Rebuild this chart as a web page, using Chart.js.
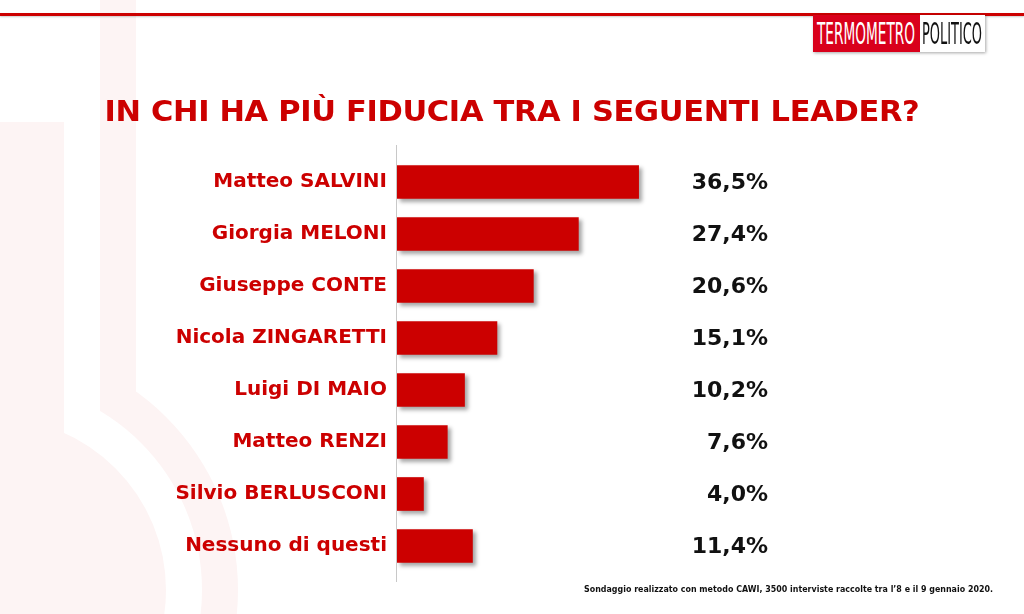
<!DOCTYPE html>
<html>
<head>
<meta charset="utf-8">
<script src="https://cdn.jsdelivr.net/npm/chart.js@4"></script>
<style>
html,body{margin:0;padding:0;background:#fff;width:1024px;height:614px;overflow:hidden;}
#wrap{position:relative;width:1024px;height:614px;}
canvas{position:absolute;left:0;top:0;}
#title{position:absolute;left:0;width:1024px;top:94px;text-align:center;font-family:"DejaVu Sans";font-weight:bold;font-size:29px;color:#cc0000;white-space:nowrap;letter-spacing:-0.3px;}
#title span{display:inline-block;transform-origin:50% 50%;}
#logo{position:absolute;left:813px;top:15px;height:37px;width:172px;box-shadow:1px 1px 3px rgba(0,0,0,0.35);background:#fff;}
#logo .r{position:absolute;left:0;top:0;width:107px;height:37px;background:#d9001b;}
#logo .t{position:absolute;top:2px;font-family:"Liberation Sans Narrow","DejaVu Sans Condensed","Liberation Sans";font-size:30px;line-height:33px;white-space:nowrap;transform-origin:0 0;}
#foot{position:absolute;left:584px;top:584px;font-family:"DejaVu Sans";font-weight:bold;font-size:9px;color:#111;white-space:nowrap;transform-origin:0 0;}
</style>
</head>
<body>
<div id="wrap">
<canvas id="c" width="1024" height="614"></canvas>
<div id="title"><span id="tspan">IN CHI HA PIÙ FIDUCIA TRA I SEGUENTI LEADER?</span></div>
<div id="logo"><div class="r"></div><span class="t" id="l1" style="left:4px;color:#fff;">TERMOMETRO</span><span class="t" id="l2" style="left:109px;color:#111;">POLITICO</span></div>
<div id="foot">Sondaggio realizzato con metodo CAWI, 3500 interviste raccolte tra l’8 e il 9 gennaio 2020.</div>
</div>
<script>
const categories = ["Matteo SALVINI","Giorgia MELONI","Giuseppe CONTE","Nicola ZINGARETTI","Luigi DI MAIO","Matteo RENZI","Silvio BERLUSCONI","Nessuno di questi"];
const values = [36.5,27.4,20.6,15.1,10.2,7.6,4.0,11.4];
const valueLabels = ["36,5%","27,4%","20,6%","15,1%","10,2%","7,6%","4,0%","11,4%"];

function fitWidth(el, w){
  const r = el.getBoundingClientRect().width;
  el.style.transform = 'scaleX(' + (w / r) + ')';
}
fitWidth(document.getElementById('tspan'), 815);
fitWidth(document.getElementById('l1'), 98);
fitWidth(document.getElementById('l2'), 60);
fitWidth(document.getElementById('foot'), 409);

const bgPlugin = {
  id:'bg',
  beforeDraw(chart){
    const ctx = chart.ctx;
    ctx.save();
    const pink = '#fdf4f4';
    ctx.fillStyle = pink;
    ctx.beginPath(); ctx.arc(-6,590,244,0,Math.PI*2); ctx.fill();
    ctx.fillRect(100,0,36,400);
    ctx.fillStyle = '#fff';
    ctx.beginPath(); ctx.arc(-6,590,208,0,Math.PI*2); ctx.fill();
    ctx.fillRect(64,0,36,420);
    ctx.fillStyle = pink;
    ctx.beginPath(); ctx.arc(-6,590,172,0,Math.PI*2); ctx.fill();
    ctx.fillRect(0,122,64,400);
    // top rule
    ctx.shadowColor = 'rgba(0,0,0,0.2)';
    ctx.shadowOffsetY = 1; ctx.shadowBlur = 2;
    ctx.fillStyle = '#cc0000';
    ctx.fillRect(0,13,1024,3);
    ctx.shadowColor = 'transparent';
    // axis line
    ctx.fillStyle = '#c8c8c8';
    ctx.fillRect(chart.chartArea.left - 1, 145, 1, 437);
    ctx.restore();
  }
};
const shadowPlugin = {
  id:'shadow',
  beforeDatasetDraw(chart){
    const ctx = chart.ctx;
    ctx.save();
    ctx.shadowColor = 'rgba(0,0,0,0.35)';
    ctx.shadowOffsetX = 3; ctx.shadowOffsetY = 3; ctx.shadowBlur = 4;
  },
  afterDatasetDraw(chart){ chart.ctx.restore(); }
};
const valuePlugin = {
  id:'vals',
  afterDatasetsDraw(chart){
    const ctx = chart.ctx;
    const meta = chart.getDatasetMeta(0);
    ctx.save();
    ctx.fillStyle = '#111';
    ctx.font = 'bold 22px "DejaVu Sans"';
    ctx.textAlign = 'right';
    ctx.textBaseline = 'middle';
    meta.data.forEach((bar,i)=>{
      ctx.fillText(valueLabels[i], 768, bar.y + 1);
    });
    ctx.restore();
  }
};

new Chart(document.getElementById('c'), {
  type:'bar',
  data:{labels:categories, datasets:[{data:values, backgroundColor:'#cc0000', borderWidth:0, barThickness:33}]},
  options:{
    responsive:false, animation:false, indexAxis:'y',
    layout:{padding:{top:156,bottom:42,left:0,right:296}},
    plugins:{legend:{display:false}, tooltip:{enabled:false}},
    scales:{
      x:{display:false, min:0, max:50},
      y:{
        afterFit(s){ s.width = 397; },
        grid:{display:false, drawTicks:false},
        border:{display:false},
        ticks:{color:'#cc0000', padding:10, font:{family:'"DejaVu Sans"', weight:'bold', size:20}}
      }
    }
  },
  plugins:[bgPlugin, shadowPlugin, valuePlugin]
});
</script>
</body>
</html>
